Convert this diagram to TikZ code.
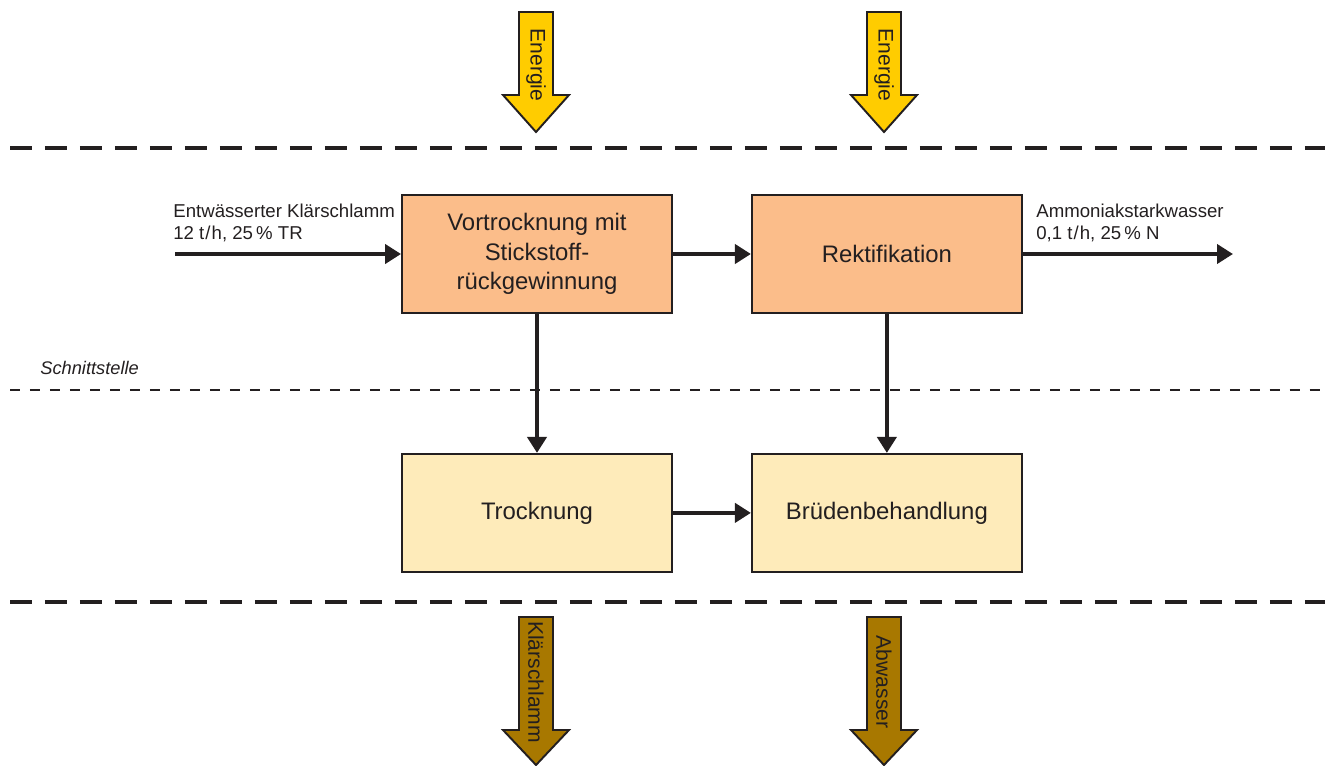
\documentclass[tikz,border=0pt]{standalone}
\usepackage{fontspec}
\setmainfont{Liberation Sans}
\usetikzlibrary{positioning,arrows.meta}

\definecolor{vorfarbe}{HTML}{FBBD8A}
\definecolor{nachfarbe}{HTML}{FEEBBA}
\definecolor{energiefarbe}{HTML}{FFCC00}
\definecolor{ausfarbe}{HTML}{A87800}
\definecolor{linie}{HTML}{231F20}

\tikzset{
  every node/.style={text=linie},
  stage/.style={draw=linie, line width=1.1pt, minimum width=5.4cm, minimum height=2.36cm,
    align=center, font=\fontsize{13.6}{16.8}\selectfont},
  vorstufe/.style={stage, fill=vorfarbe},
  nachstufe/.style={stage, fill=nachfarbe},
  flow/.style={draw=linie, line width=2.3pt, -{Triangle[length=3.2mm,width=3.8mm]}},
  grenze/.style={draw=linie, line width=2.2pt, dash pattern=on 0.44cm off 0.26cm},
  schnitt/.style={draw=linie, line width=1.1pt, dash pattern=on 0.2cm off 0.2cm},
  flusstext/.style={align=left, inner sep=0pt, font=\fontsize{10.6}{12.5}\selectfont},
  pfeiltext/.style={rotate=-90, inner sep=0pt, font=\fontsize{12}{14}\selectfont},
}

% #1 x, #2 oben, #3 Schaftende, #4 Spitze, #5 Farbe, #6 Text, #7 Textmitte
\newcommand{\pfeil}[7]{%
  \filldraw[fill=#5, draw=linie, line width=1.1pt, line join=miter]
    (#1-17,#2) -- (#1+17,#2) -- (#1+17,#3) -- (#1+33,#3) -- (#1,#4)
    -- (#1-33,#3) -- (#1-17,#3) -- cycle;
  \node[pfeiltext] at (#1,#7) {#6};
}

\begin{document}
\begin{tikzpicture}[x=0.02cm,y=-0.02cm]
  \useasboundingbox (0,0) rectangle (1325,765);

  \draw[grenze] (10,148) -- (1325,148);
  \draw[schnitt] (10,390) -- (1325,390);
  \draw[grenze] (10,602) -- (1325,602);

  \node[anchor=west, inner sep=0pt, font=\fontsize{10.4}{12}\itshape] (schnittstelle) at (40,368) {Schnittstelle};

  \pfeil{536}{12}{95}{132}{energiefarbe}{Energie}{65}
  \pfeil{884}{12}{95}{132}{energiefarbe}{Energie}{65}
  \pfeil{536}{617}{730}{765}{ausfarbe}{Klärschlamm}{682}
  \pfeil{884}{617}{730}{765}{ausfarbe}{Abwasser}{682}

  \node[vorstufe] (vortrocknung) at (537,254) {Vortrocknung mit\\Stickstoff-\\rückgewinnung};
  \node[vorstufe, right=1.56cm of vortrocknung] (rektifikation) {Rektifikation};
  \node[nachstufe, below=2.78cm of vortrocknung] (trocknung) {Trocknung};
  \node[nachstufe, below=2.78cm of rektifikation] (brueden) {Brüdenbehandlung};

  \coordinate (ein) at (175,254);
  \coordinate (aus) at (1233,254);

  \node[flusstext, anchor=south west] (eintext) at (173,242) {Entwässerter Klärschlamm\\12 t\kern0.6pt/\kern0.6pt h, 25\,\% TR};
  \node[flusstext, anchor=south west] (austext) at (1036,242) {Ammoniakstarkwasser\\0,1 t\kern0.6pt/\kern0.6pt h, 25\,\% N};

  \draw[flow] (ein) -- (vortrocknung);
  \draw[flow] (vortrocknung) -- (rektifikation);
  \draw[flow] (rektifikation) -- (aus);
  \draw[flow] (vortrocknung) -- (trocknung);
  \draw[flow] (rektifikation) -- (brueden);
  \draw[flow] (trocknung) -- (brueden);
\end{tikzpicture}
\end{document}
